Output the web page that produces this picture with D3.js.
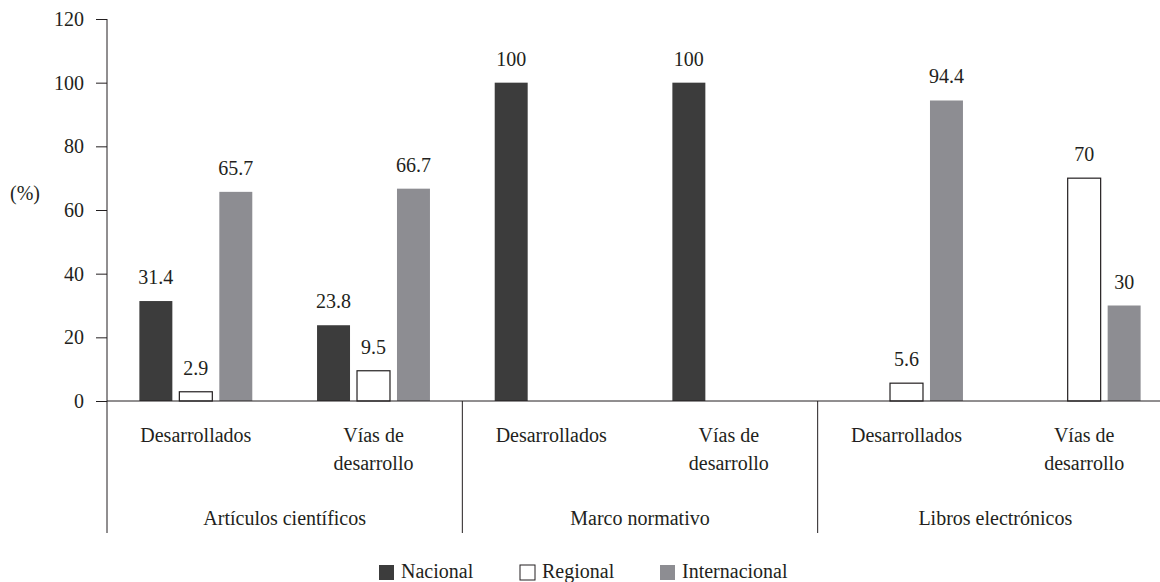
<!DOCTYPE html>
<html>
<head>
  <meta charset="UTF-8">
  <style>
    body { margin: 0; background: #fff; }
    svg text, svg tspan { font-family: 'Liberation Serif' !important; }
    .axis path, .axis line { stroke: #231f20; }
  </style>
</head>
<body>
  <script src="https://cdn.jsdelivr.net/npm/d3@7/dist/d3.min.js"></script>
  <script>
    // datos
    var groups = ['Artículos científicos', 'Marco normativo', 'Libros electrónicos'];
    var subs = [['Desarrollados'], ['Vías de', 'desarrollo']];
    var series = ['Nacional', 'Regional', 'Internacional'];
    var nacional = [31.4, 23.8, 100, 100, null, null];
    var regional = [2.9, 9.5, null, null, 5.6, 70];
    var internacional = [65.7, 66.7, null, null, 94.4, 30];
    var yTicks = [0, 20, 40, 60, 80, 100, 120];

    var colors = { Nacional: '#3c3c3c', Regional: '#ffffff', Internacional: '#8d8d92' };
    var values = { Nacional: nacional, Regional: regional, Internacional: internacional };

    var svg = d3.select('body').append('svg').attr('width', 1160).attr('height', 582)
      .attr('font-family', 'Liberation Serif');

    var x0 = 107, x1 = 1173, yTop = 19, yBase = 401;
    var cells = [];
    groups.forEach(function (g, gi) {
      subs.forEach(function (s, si) { cells.push(gi + '_' + si); });
    });

    var xg = d3.scaleBand().domain(groups).range([x0, x1]);
    var xc = d3.scaleBand().domain(cells).range([x0, x1]);
    var xs = d3.scaleBand().domain(series).range([0, xc.bandwidth()])
      .paddingInner(0.175).paddingOuter(0.81);
    var y = d3.scaleLinear().domain([0, 120]).range([yBase, yTop]);

    // eje y
    var yAxis = svg.append('g').attr('class', 'axis')
      .attr('transform', 'translate(' + x0 + ',0)')
      .call(d3.axisLeft(y).tickValues(yTicks).tickSize(11).tickPadding(12).tickSizeOuter(0));
    yAxis.attr('font-family', 'Liberation Serif').attr('font-size', null);
    yAxis.select('.domain').remove();
    svg.append('line').attr('x1', x0).attr('x2', x0).attr('y1', yTop).attr('y2', 533)
      .attr('stroke', '#231f20');

    svg.append('text').attr('x', 10).attr('y', 200).text('(%)');

    // barras
    series.forEach(function (s) {
      var data = values[s].map(function (v, i) { return { v: v, c: cells[i] }; })
        .filter(function (d) { return d.v != null; });
      var g = svg.append('g');
      g.selectAll('rect').data(data).enter().append('rect')
        .attr('x', function (d) { return xc(d.c) + xs(s); })
        .attr('y', function (d) { return y(d.v); })
        .attr('width', xs.bandwidth())
        .attr('height', function (d) { return yBase - y(d.v); })
        .attr('fill', colors[s])
        .attr('stroke', s === 'Regional' ? '#231f20' : 'none')
        .attr('stroke-width', 1.2);
      g.selectAll('text').data(data).enter().append('text')
        .attr('x', function (d) { return xc(d.c) + xs(s) + xs.bandwidth() / 2; })
        .attr('y', function (d) { return y(d.v) - 17; })
        .attr('text-anchor', 'middle')
        .text(function (d) { return d.v; });
    });

    // eje x
    svg.append('line').attr('x1', x0).attr('x2', x1).attr('y1', yBase).attr('y2', yBase)
      .attr('stroke', '#231f20');
    groups.forEach(function (g, gi) {
      if (gi > 0) {
        svg.append('line').attr('x1', xg(g)).attr('x2', xg(g))
          .attr('y1', yBase).attr('y2', 533).attr('stroke', '#231f20');
      }
      svg.append('text').attr('x', xg(g) + xg.bandwidth() / 2).attr('y', 525)
        .attr('text-anchor', 'middle').text(g);
    });
    cells.forEach(function (c) {
      var si = +c.split('_')[1];
      var t = svg.append('text').attr('x', xc(c) + xc.bandwidth() / 2).attr('y', 442)
        .attr('text-anchor', 'middle');
      subs[si].forEach(function (line, li) {
        t.append('tspan').attr('x', xc(c) + xc.bandwidth() / 2).attr('dy', li ? 28 : 0).text(line);
      });
    });

    // leyenda
    var legX = [379, 520, 660];
    series.forEach(function (s, i) {
      svg.append('rect').attr('x', legX[i]).attr('y', 565).attr('width', 15).attr('height', 15)
        .attr('fill', colors[s]).attr('stroke', s === 'Regional' ? '#231f20' : 'none');
      svg.append('text').attr('x', legX[i] + 22).attr('y', 578).text(s);
    });

    svg.selectAll('text').attr('font-family', 'Liberation Serif')
      .style('font-size', '20px').style('fill', '#231f20');
  </script>
</body>
</html>
